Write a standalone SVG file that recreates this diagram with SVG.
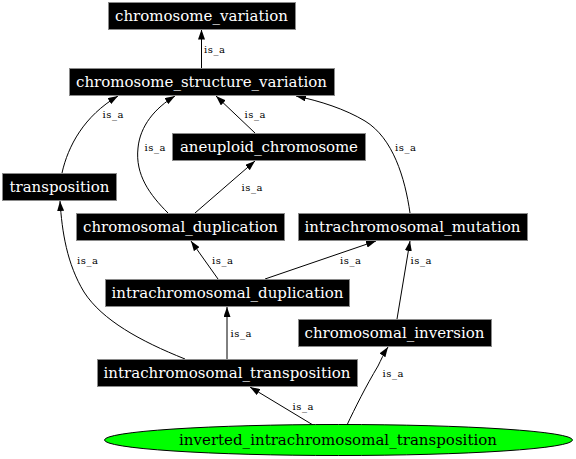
<svg xmlns="http://www.w3.org/2000/svg" width="576" height="459" viewBox="0 0 576 459">
<style>
.box{fill:#000;stroke:#8a8a8a;stroke-width:1}
.nt{font-family:"DejaVu Serif","Liberation Serif",serif;font-size:15px;fill:#fff;text-anchor:middle}
.et{font-family:"DejaVu Serif","Liberation Serif",serif;font-size:10px;fill:#000;text-anchor:middle}
.e{fill:none;stroke:#000;stroke-width:1}
</style>
<defs>
<marker id="ah" viewBox="0 0 10 7" refX="10" refY="3.5" markerWidth="10" markerHeight="7" markerUnits="userSpaceOnUse" orient="auto">
<path d="M0,0 L10,3.5 L0,7 Z" fill="#000"/>
</marker>
</defs>
<rect width="576" height="459" fill="#fff"/>
<g id="connectors">
<path class="e" marker-end="url(#ah)" d="M201.5,68 L201.5,29.5"/>
<text class="et" x="214.5" y="52.5" textLength="21" lengthAdjust="spacing">is_a</text>
<path class="e" marker-end="url(#ah)" d="M62,173 C68,146 84,116 118,96"/>
<text class="et" x="113" y="117.5" textLength="21" lengthAdjust="spacing">is_a</text>
<path class="e" marker-end="url(#ah)" d="M168,213 C150,195 135,175 138,148 C140,126 155,108 175,96"/>
<text class="et" x="155" y="150.5" textLength="21" lengthAdjust="spacing">is_a</text>
<path class="e" marker-end="url(#ah)" d="M255,133 L216,96"/>
<text class="et" x="255" y="117.5" textLength="21" lengthAdjust="spacing">is_a</text>
<path class="e" marker-end="url(#ah)" d="M195,213 L255,161"/>
<text class="et" x="252" y="190.5" textLength="21" lengthAdjust="spacing">is_a</text>
<path class="e" marker-end="url(#ah)" d="M410,213 C405,178 393,138 365,121 C345,109 320,101 296,96"/>
<text class="et" x="405.5" y="150.5" textLength="21" lengthAdjust="spacing">is_a</text>
<path class="e" marker-end="url(#ah)" d="M218,279 L191,241"/>
<text class="et" x="222.5" y="263.5" textLength="21" lengthAdjust="spacing">is_a</text>
<path class="e" marker-end="url(#ah)" d="M265,279 L376,241"/>
<text class="et" x="350.5" y="263.5" textLength="21" lengthAdjust="spacing">is_a</text>
<path class="e" marker-end="url(#ah)" d="M397,319 L410,241"/>
<text class="et" x="421" y="263.5" textLength="21" lengthAdjust="spacing">is_a</text>
<path class="e" marker-end="url(#ah)" d="M185,359 C140,341 102,320 84,292 C67,264 62,232 60,201"/>
<text class="et" x="87.5" y="263.5" textLength="21" lengthAdjust="spacing">is_a</text>
<path class="e" marker-end="url(#ah)" d="M227,359 L227,307"/>
<text class="et" x="241" y="336.5" textLength="21" lengthAdjust="spacing">is_a</text>
<path class="e" marker-end="url(#ah)" d="M313,425 L250,387"/>
<text class="et" x="303" y="409.5" textLength="21" lengthAdjust="spacing">is_a</text>
<path class="e" marker-end="url(#ah)" d="M347,425 C355,408 366,386 378,366 C381,360 384,353 388,347"/>
<text class="et" x="393" y="376.5" textLength="21" lengthAdjust="spacing">is_a</text>
</g>
<g id="chromosome_variation"><rect class="box" x="108.5" y="2.5" width="187" height="27"/><text class="nt" x="201.5" y="20.7" textLength="173" lengthAdjust="spacing">chromosome_variation</text></g>
<g id="chromosome_structure_variation"><rect class="box" x="69.5" y="68.5" width="265" height="27"/><text class="nt" x="201.5" y="86.7" textLength="251" lengthAdjust="spacing">chromosome_structure_variation</text></g>
<g id="aneuploid_chromosome"><rect class="box" x="172.5" y="133.5" width="193" height="27"/><text class="nt" x="269" y="151.7" textLength="178" lengthAdjust="spacing">aneuploid_chromosome</text></g>
<g id="transposition"><rect class="box" x="2.5" y="173.5" width="114" height="27"/><text class="nt" x="59.5" y="191.7" textLength="100" lengthAdjust="spacing">transposition</text></g>
<g id="chromosomal_duplication"><rect class="box" x="76.5" y="213.5" width="208" height="27"/><text class="nt" x="180.5" y="231.7" textLength="195" lengthAdjust="spacing">chromosomal_duplication</text></g>
<g id="intrachromosomal_mutation"><rect class="box" x="298.5" y="213.5" width="229" height="27"/><text class="nt" x="412.5" y="231.7" textLength="216" lengthAdjust="spacing">intrachromosomal_mutation</text></g>
<g id="intrachromosomal_duplication"><rect class="box" x="105.5" y="279.5" width="244" height="27"/><text class="nt" x="227.5" y="297.7" textLength="232" lengthAdjust="spacing">intrachromosomal_duplication</text></g>
<g id="chromosomal_inversion"><rect class="box" x="298.5" y="319.5" width="193" height="27"/><text class="nt" x="394.5" y="337.7" textLength="180" lengthAdjust="spacing">chromosomal_inversion</text></g>
<g id="intrachromosomal_transposition"><rect class="box" x="97.5" y="359.5" width="260" height="27"/><text class="nt" x="227" y="377.7" textLength="247" lengthAdjust="spacing">intrachromosomal_transposition</text></g>
<g id="inverted_intrachromosomal_transposition"><ellipse cx="338.5" cy="440" rx="234" ry="15.5" fill="#00ff00" stroke="#000" stroke-width="1"/><text class="nt" x="338" y="445" style="fill:#000" textLength="318" lengthAdjust="spacing">inverted_intrachromosomal_transposition</text></g>
</svg>
